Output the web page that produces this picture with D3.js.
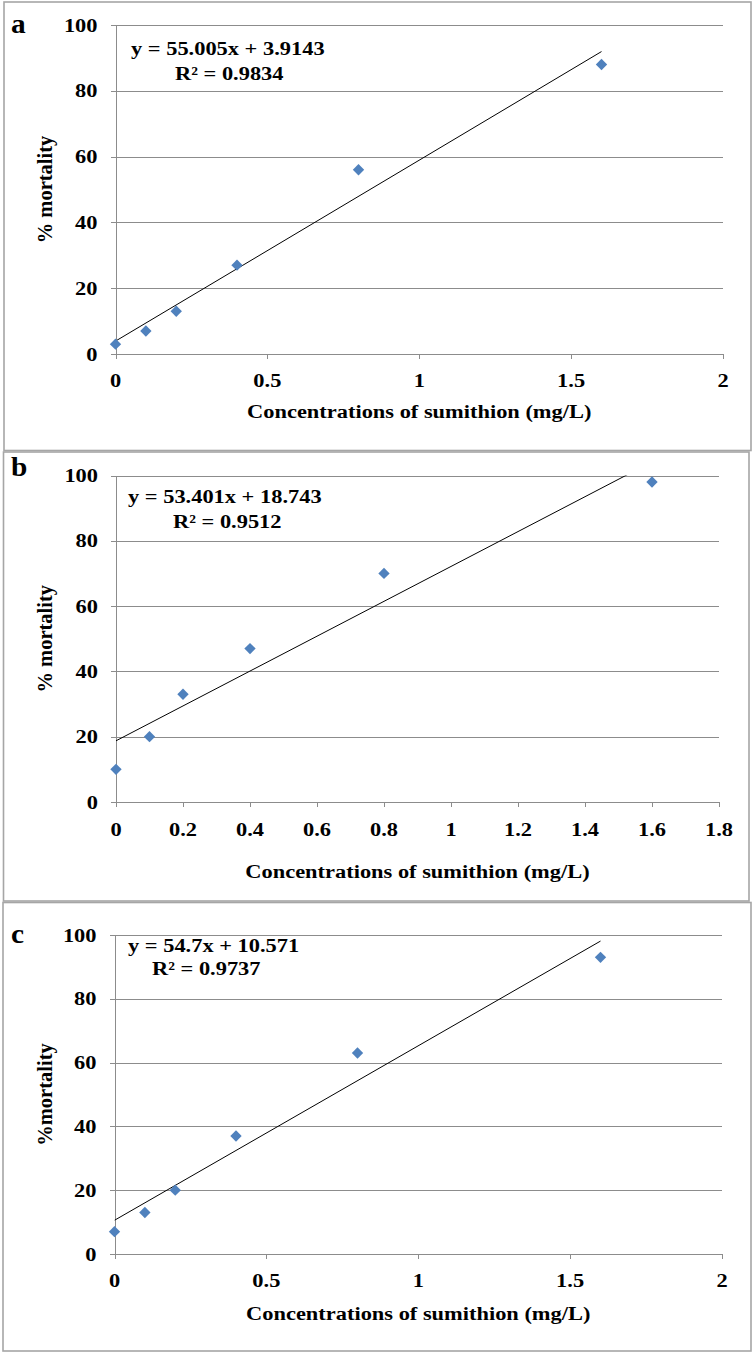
<!DOCTYPE html>
<html>
<head>
<meta charset="utf-8">
<script src="https://cdn.jsdelivr.net/npm/d3@7"></script>
<style>
  html, body { margin: 0; padding: 0; background: #fff; }
  svg { display: block; }
  text { font-family: "Liberation Serif", "Times New Roman", serif; font-weight: bold; fill: #000; }
</style>
</head>
<body>
<svg id="chart" width="754" height="1354"></svg>
<script>
// ---------------- data ----------------
const concentrations = [0, 0.1, 0.2, 0.4, 0.8, 1.6];
const mortalityA = [3, 7, 13, 27, 56, 88];
const mortalityB = [10, 20, 33, 47, 70, 98];
const mortalityC = [7, 13, 20, 37, 63, 93];
const fitSlopes = [55.005, 53.401, 54.7];
const fitIntercepts = [3.9143, 18.743, 10.571];
const equationLabels = ["y = 55.005x + 3.9143", "y = 53.401x + 18.743", "y = 54.7x + 10.571"];
const r2Labels = ["R² = 0.9834", "R² = 0.9512", "R² = 0.9737"];
const panelLetters = ["a", "b", "c"];
const yTitles = ["% mortality", "% mortality", "%mortality"];
const xTitle = "Concentrations of sumithion (mg/L)";
const yTicks = [0, 20, 40, 60, 80, 100];
const xTicksA = [0, 0.5, 1, 1.5, 2];
const xTicksB = [0, 0.2, 0.4, 0.6, 0.8, 1, 1.2, 1.4, 1.6, 1.8];
const xTicksC = [0, 0.5, 1, 1.5, 2];

// ---------------- layout ----------------
const layouts = [
  { box: [4, 2, 751, 450.5], left: 115.5, right: 723, top: 25, bottom: 354, xTicks: xTicksA, ys: mortalityA,
    tickDy: 33, titleDy: 64, eq1: [131, 30], eq2: [175, 55], letterY: 33 },
  { box: [3.5, 452, 749, 901], left: 116, right: 719, top: 475.5, bottom: 802, xTicks: xTicksB, ys: mortalityB,
    tickDy: 34, titleDy: 76, eq1: [128, 27.5], eq2: [173, 52], letterY: 476 },
  { box: [3, 902.5, 751, 1351], left: 114.5, right: 722, top: 935, bottom: 1254, xTicks: xTicksC, ys: mortalityC,
    tickDy: 33, titleDy: 66, eq1: [128, 17], eq2: [152, 40], letterY: 943 }
];

const SX = 1.15;       // horizontal stretch of the reference typography
const FS = 19.5;       // font size
const gridColor = "#8c8c8c";
const markerColor = "#4f81bd";

const svg = d3.select("#chart");

function stretchedText(parent, x, y, str, anchor, size, sx) {
  const g = parent.append("g").attr("transform", `translate(${x},${y}) scale(${sx || SX},1)`);
  g.append("text").attr("text-anchor", anchor || "start")
    .attr("font-size", size || FS).text(str);
  return g;
}

layouts.forEach((L, i) => {
  const g = svg.append("g");
  const [bx0, by0, bx1, by1] = L.box;
  g.append("rect").attr("x", bx0).attr("y", by0).attr("width", bx1 - bx0).attr("height", by1 - by0)
    .attr("fill", "#fff").attr("stroke", "#a6a6a6").attr("stroke-width", 1.6);

  const xMax = L.xTicks[L.xTicks.length - 1];
  const x = d3.scaleLinear().domain([0, xMax]).range([L.left, L.right]);
  const y = d3.scaleLinear().domain([0, 100]).range([L.bottom, L.top]);

  // gridlines
  const grid = g.append("g").attr("transform", `translate(${L.left},0)`)
    .call(d3.axisLeft(y).tickValues(yTicks.filter(v => v > 0)).tickSize(-(L.right - L.left)).tickFormat(""));
  grid.select(".domain").remove();
  grid.selectAll("line").attr("stroke", gridColor).attr("stroke-width", 1).attr("shape-rendering", "crispEdges");

  // y axis
  const ya = g.append("g").attr("transform", `translate(${L.left},0)`)
    .call(d3.axisLeft(y).tickValues(yTicks).tickSize(5).tickSizeOuter(0).tickFormat(""));
  ya.select(".domain").attr("stroke", gridColor).attr("shape-rendering", "crispEdges");
  ya.selectAll("line").attr("stroke", gridColor).attr("shape-rendering", "crispEdges");

  // x axis
  const xa = g.append("g").attr("transform", `translate(0,${L.bottom})`)
    .call(d3.axisBottom(x).tickValues(L.xTicks).tickSize(5).tickSizeOuter(0).tickFormat(""));
  xa.select(".domain").attr("stroke", gridColor).attr("shape-rendering", "crispEdges");
  xa.selectAll("line").attr("stroke", gridColor).attr("shape-rendering", "crispEdges");

  // tick labels
  yTicks.forEach(v => stretchedText(g, L.left - 18, y(v) + 6.5, String(v), "end"));
  L.xTicks.forEach(v => stretchedText(g, x(v), L.bottom + L.tickDy, String(v), "middle"));

  // axis titles
  stretchedText(g, (L.left + L.right) / 2, L.bottom + L.titleDy, xTitle, "middle");
  g.append("text").attr("font-size", FS + 1).attr("text-anchor", "middle")
    .attr("transform", `translate(52,${(L.top + L.bottom) / 2}) rotate(-90)`)
    .text(yTitles[i]);

  // panel letter
  stretchedText(g, 11, L.letterY, panelLetters[i], "start", 28, 1.05);

  // trendline (clipped to plot area)
  const clipId = "clip" + i;
  g.append("clipPath").attr("id", clipId).append("rect")
    .attr("x", L.left).attr("y", L.top).attr("width", L.right - L.left).attr("height", L.bottom - L.top);
  const xs = [0, d3.max(concentrations)];
  const line = d3.line().x(d => x(d)).y(d => y(fitSlopes[i] * d + fitIntercepts[i]));
  g.append("path").datum(xs).attr("d", line).attr("fill", "none")
    .attr("stroke", "#000").attr("stroke-width", 1).attr("clip-path", `url(#${clipId})`);

  // markers
  const sym = d3.symbol().type(d3.symbolSquare).size(64);
  g.selectAll(".pt").data(concentrations.map((c, k) => [c, L.ys[k]])).enter().append("path")
    .attr("d", sym)
    .attr("transform", d => `translate(${x(d[0])},${y(d[1])}) rotate(45)`)
    .attr("fill", markerColor);

  // equation labels
  stretchedText(g, L.eq1[0], L.top + L.eq1[1], equationLabels[i], "start");
  stretchedText(g, L.eq2[0], L.top + L.eq2[1], r2Labels[i], "start");
});
</script>
</body>
</html>
